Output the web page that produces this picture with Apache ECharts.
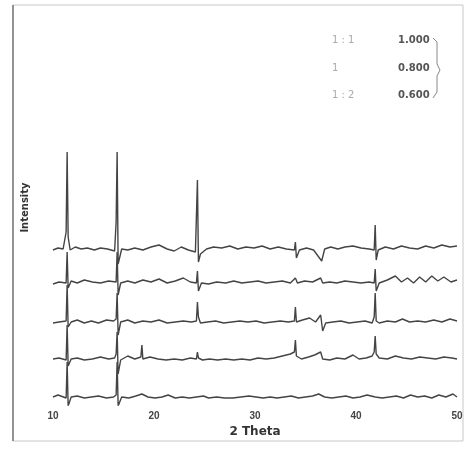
<!DOCTYPE html>
<html><head><meta charset="utf-8">
<script src="https://cdn.jsdelivr.net/npm/echarts@6/dist/echarts.min.js"></script>
<style>html,body{margin:0;padding:0;background:#fff}#c{width:470px;height:451px}</style>
</head><body><div id="c"></div>
<script>
// tick labels of the 2θ axis
const xTicks = [10, 20, 30, 40, 50];
// vertical offsets of the stacked patterns (bottom to top)
const offsets = [5, 43, 80, 120, 153];
// legend texts
const legendLeft = ['1 : 1', '1', '1 : 2'];
const legendRight = ['1.000', '0.800', '0.600'];

// pattern intensities as [2θ, intensity]
const traceA = [[10,2],[10.5,4],[11,3],[11.3,20],[11.4,100],[11.5,15],[11.7,2],[12.2,5],[12.8,3],[13.4,4],[14.1,2],[14.7,4],[15.4,3],[16.1,1],[16.25,30],[16.35,100],[16.45,-12],[16.6,-14],[16.8,3],[17.4,2],[18.1,4],[18.9,2],[19.7,5],[20.5,7],[21.3,3],[22,1],[22.7,5],[23.4,2],[24.1,0],[24.3,72],[24.4,-10],[24.6,-2],[25.2,3],[25.9,5],[26.7,4],[27.5,6],[28.3,3],[29.1,5],[29.9,4],[30.7,6],[31.5,3],[32.3,5],[33.1,3],[33.9,2],[34.0,10],[34.1,-6],[34.4,2],[35.1,4],[35.8,2],[36.6,-9],[36.9,3],[37.5,5],[38.2,3],[38.9,5],[39.7,6],[40.5,4],[41.3,3],[41.8,2],[41.9,27],[42.0,-8],[42.2,2],[42.9,5],[43.7,3],[44.5,6],[45.3,4],[46.1,3],[46.9,6],[47.7,4],[48.5,7],[49.3,5],[50,6]];
const traceB = [[10,1],[10.6,3],[11.3,2],[11.4,33],[11.5,-3],[11.8,4],[12.4,2],[13.1,5],[13.9,3],[14.7,2],[15.5,4],[16.25,3],[16.35,33],[16.45,-10],[16.7,2],[17.4,4],[18.1,2],[18.9,5],[19.7,3],[20.5,6],[21.3,2],[22.1,4],[22.9,7],[23.6,3],[24.2,2],[24.3,14],[24.4,-6],[24.7,2],[25.4,1],[26.2,3],[27.1,2],[27.9,4],[28.7,2],[29.5,3],[30.3,4],[31.1,2],[31.9,3],[32.7,4],[33.5,2],[34.0,7],[34.2,2],[34.9,4],[35.7,3],[36.5,7],[36.7,2],[37.4,3],[38.1,2],[38.9,4],[39.7,3],[40.5,2],[41.3,3],[41.8,2],[41.9,16],[42.0,-6],[42.3,2],[43.1,5],[43.9,9],[44.5,3],[45.1,7],[45.7,2],[46.3,8],[46.9,3],[47.5,9],[48.1,4],[48.7,8],[49.4,3],[50,5]];
const traceC = [[10,2],[10.6,3],[11.3,4],[11.4,40],[11.5,-2],[11.8,3],[12.4,5],[13.1,2],[13.8,4],[14.5,2],[15.3,5],[16.0,4],[16.25,6],[16.35,32],[16.45,-10],[16.7,3],[17.4,5],[18.1,2],[18.9,4],[19.7,3],[20.5,5],[21.3,2],[22.1,3],[22.9,4],[23.7,3],[24.2,4],[24.3,23],[24.4,8],[24.6,2],[25.3,3],[26.1,4],[26.9,2],[27.7,3],[28.5,4],[29.3,3],[30.1,4],[30.9,2],[31.7,3],[32.5,4],[33.3,3],[33.9,4],[34.0,18],[34.1,3],[34.7,5],[35.4,7],[36.0,3],[36.5,10],[36.7,-6],[37.0,2],[37.7,3],[38.5,4],[39.3,2],[40.1,3],[40.9,4],[41.6,2],[41.8,8],[41.9,32],[42.0,4],[42.3,2],[43.1,4],[43.9,3],[44.6,6],[45.3,3],[46.1,4],[46.9,3],[47.7,5],[48.5,3],[49.3,6],[50,4]];
const traceD = [[10,3],[10.6,4],[11.3,2],[11.4,37],[11.5,-4],[11.8,3],[12.4,4],[13.1,2],[13.9,3],[14.7,5],[15.5,3],[16.1,4],[16.25,8],[16.35,30],[16.45,-12],[16.7,2],[17.4,6],[18.1,3],[18.7,5],[18.8,17],[18.9,3],[19.6,5],[20.4,3],[21.2,2],[22,3],[22.8,2],[23.6,4],[24.2,3],[24.3,10],[24.4,4],[24.8,2],[25.5,3],[26.3,2],[27.1,3],[27.9,2],[28.7,3],[29.5,2],[30.3,4],[31.1,3],[31.9,4],[32.7,6],[33.5,8],[33.9,10],[34.0,22],[34.1,6],[34.6,3],[35.3,5],[35.9,7],[36.5,10],[36.7,3],[37.4,2],[38.1,4],[38.9,3],[39.7,7],[40.3,3],[41.0,4],[41.6,6],[41.8,10],[41.9,26],[42.0,8],[42.3,4],[43.1,3],[43.9,6],[44.7,4],[45.5,3],[46.3,5],[47.1,4],[47.9,3],[48.7,5],[49.5,4],[50,3]];
const traceE = [[10,3],[10.5,5],[11.3,2],[11.4,38],[11.5,-6],[11.8,3],[12.4,4],[13.1,2],[13.8,3],[14.5,4],[15.3,2],[16.0,3],[16.25,5],[16.35,38],[16.45,-6],[16.8,3],[17.5,2],[18.2,4],[18.8,6],[19.4,3],[20.1,2],[20.8,3],[21.4,5],[22.1,2],[22.8,3],[23.5,2],[24.2,3],[24.9,4],[25.4,2],[26.2,3],[27,2],[27.8,2],[28.6,3],[29.4,4],[30.1,3],[30.8,2],[31.5,3],[32.2,2],[32.9,3],[33.6,4],[34.3,2],[35,3],[35.7,4],[36.3,6],[36.9,3],[37.6,2],[38.3,3],[39,4],[39.7,2],[40.4,3],[41.1,5],[41.9,3],[42.6,2],[43.3,3],[44,4],[44.7,2],[45.4,5],[46.1,3],[46.8,4],[47.5,2],[48.2,5],[48.9,3],[49.6,6],[50,3]];

const traces = [traceE, traceD, traceC, traceB, traceA];

const chart = echarts.init(document.getElementById('c'), null, {renderer: 'canvas'});
const series = traces.map((t, i) => ({
  type: 'line',
  data: t.map(p => [p[0], p[1] + offsets[i]]),
  showSymbol: false,
  symbol: 'none',
  smooth: false,
  lineStyle: {color: '#444', width: 1.4},
  silent: true,
  animation: false
}));

const legendGraphics = [];
const legendY = [42, 70, 97];
legendLeft.forEach((t, i) => {
  legendGraphics.push({type: 'text', left: 332, top: legendY[i] - 7,
    style: {text: t, fill: '#aaa', font: '10px "DejaVu Sans"'}});
});
legendRight.forEach((t, i) => {
  legendGraphics.push({type: 'text', left: 398, top: legendY[i] - 7,
    style: {text: t, fill: '#555', font: 'bold 10px "DejaVu Sans"'}});
});

chart.setOption({
  animation: false,
  backgroundColor: '#fff',
  grid: {left: 53, right: 13, top: 10, bottom: 46},
  xAxis: {
    type: 'value', min: 10, max: 50, interval: 10,
    name: '2 Theta', nameLocation: 'middle', nameGap: 20,
    nameTextStyle: {color: '#333', fontSize: 12, fontWeight: 'bold', fontFamily: 'DejaVu Sans'},
    axisLine: {show: false}, axisTick: {show: false}, splitLine: {show: false},
    axisLabel: {color: '#444', fontSize: 10, fontWeight: 'bold', margin: 6,
      formatter: v => xTicks.includes(v) ? String(v) : ''}
  },
  yAxis: {
    type: 'value', min: 0, max: 395,
    name: 'Intensity', nameLocation: 'middle', nameGap: 23,
    nameTextStyle: {color: '#333', fontSize: 10, fontWeight: 'bold', fontFamily: 'DejaVu Sans'},
    axisLine: {show: false}, axisTick: {show: false}, axisLabel: {show: false}, splitLine: {show: false}
  },
  graphic: [
    {type: 'rect', shape: {x: 13, y: 5, width: 450, height: 436},
      style: {fill: 'none', stroke: '#c8c8c8', lineWidth: 1}, silent: true},
    {type: 'line', shape: {x1: 13, y1: 5, x2: 13, y2: 441},
      style: {stroke: '#777', lineWidth: 1.5}, silent: true},
    {type: 'polyline', shape: {points: [[433, 38], [437, 42], [437, 64], [440, 70], [437, 76], [437, 92], [433, 98]]},
      style: {stroke: '#888', lineWidth: 1, fill: 'none'}, silent: true}
  ].concat(legendGraphics),
  series: series
});
</script>
</body></html>
